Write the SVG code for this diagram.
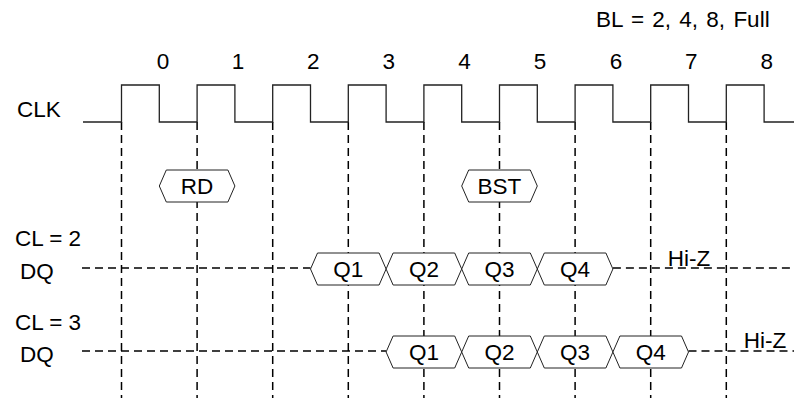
<svg xmlns="http://www.w3.org/2000/svg" width="794" height="398" viewBox="0 0 794 398">
<style>
text{font-family:"Liberation Sans",Arial,sans-serif;font-size:22.5px;fill:#000}
.c{text-anchor:middle}
.clk{fill:none;stroke:#222;stroke-width:1.3}
.dash{fill:none;stroke:#000;stroke-width:1.5;stroke-dasharray:8,5}
.box{fill:#fff;stroke:#222;stroke-width:1}
</style>
<rect width="794" height="398" fill="#fff"/>
<g id="labels">
<text x="596" y="27" style="word-spacing:2px">BL = 2, 4, 8, Full</text>
<text x="17" y="117">CLK</text>
<text x="15" y="246">CL = 2</text>
<text x="20" y="279">DQ</text>
<text x="15" y="330">CL = 3</text>
<text x="20" y="362">DQ</text>
</g>
<g id="cycles">
<text class="c" x="163" y="69">0</text>
<text class="c" x="238" y="69">1</text>
<text class="c" x="313.2" y="69">2</text>
<text class="c" x="388.8" y="69">3</text>
<text class="c" x="464.4" y="69">4</text>
<text class="c" x="540" y="69">5</text>
<text class="c" x="616" y="69">6</text>
<text class="c" x="691.2" y="69">7</text>
<text class="c" x="766.8" y="69">8</text>
</g>
<g id="connectors">
<path class="dash" d="M121.5,122V398M197.1,122V398M272.7,122V398M348.3,122V398M423.9,122V398M499.5,122V398M575.1,122V398M650.7,122V398M726.3,122V398"/>
<path class="dash" d="M82,268H310.5M612.9,268H794"/>
<path class="dash" d="M82,351H386.1M688.5,351H794"/>
</g>
<g id="clk">
<path class="clk" d="M83,122H121.5V85H159.3V122H197.1V85H234.9V122H272.7V85H310.5V122H348.3V85H386.1V122H423.9V85H461.7V122H499.5V85H537.3V122H575.1V85H612.9V122H650.7V85H688.5V122H726.3V85H764.1V122H794"/>
</g>
<g id="rd">
<polygon class="box" points="159.3,186 166.3,170 227.9,170 234.9,186 227.9,202 166.3,202"/>
<text class="c" x="197.1" y="194">RD</text>
</g>
<g id="bst">
<polygon class="box" points="461.7,186 468.7,170 530.3,170 537.3,186 530.3,202 468.7,202"/>
<text class="c" x="499.5" y="194">BST</text>
</g>
<g id="dq2">
<g id="dq2-q1"><polygon class="box" points="310.5,269 317.5,253 379.1,253 386.1,269 379.1,285 317.5,285"/><text class="c" x="348.3" y="277">Q1</text></g>
<g id="dq2-q2"><polygon class="box" points="386.1,269 393.1,253 454.7,253 461.7,269 454.7,285 393.1,285"/><text class="c" x="423.9" y="277">Q2</text></g>
<g id="dq2-q3"><polygon class="box" points="461.7,269 468.7,253 530.3,253 537.3,269 530.3,285 468.7,285"/><text class="c" x="499.5" y="277">Q3</text></g>
<g id="dq2-q4"><polygon class="box" points="537.3,269 544.3,253 605.9,253 612.9,269 605.9,285 544.3,285"/><text class="c" x="575.1" y="277">Q4</text></g>
<text class="c" x="689" y="266">Hi-Z</text>
</g>
<g id="dq3">
<g id="dq3-q1"><polygon class="box" points="386.1,352 393.1,336 454.7,336 461.7,352 454.7,368 393.1,368"/><text class="c" x="423.9" y="360">Q1</text></g>
<g id="dq3-q2"><polygon class="box" points="461.7,352 468.7,336 530.3,336 537.3,352 530.3,368 468.7,368"/><text class="c" x="499.5" y="360">Q2</text></g>
<g id="dq3-q3"><polygon class="box" points="537.3,352 544.3,336 605.9,336 612.9,352 605.9,368 544.3,368"/><text class="c" x="575.1" y="360">Q3</text></g>
<g id="dq3-q4"><polygon class="box" points="612.9,352 619.9,336 681.5,336 688.5,352 681.5,368 619.9,368"/><text class="c" x="650.7" y="360">Q4</text></g>
<text class="c" x="765" y="348">Hi-Z</text>
</g>
</svg>
